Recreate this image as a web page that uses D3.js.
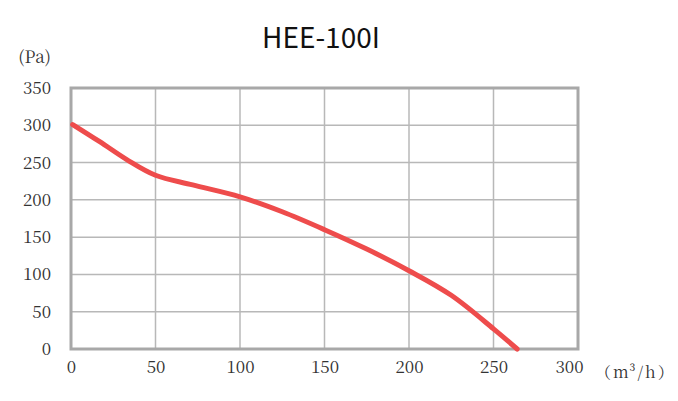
<!DOCTYPE html>
<html><head><meta charset="utf-8">
<script src="https://cdn.jsdelivr.net/npm/d3@7"></script>
<style>
html,body{margin:0;padding:0;background:#fff;}
svg{display:block;}
.lbl{font-family:'Noto Serif CJK SC','Liberation Serif',serif;font-size:17px;fill:#333;}
.unit{font-family:'Noto Serif CJK SC','Liberation Serif',serif;font-size:16px;fill:#333;letter-spacing:2px;}
.ttl{font-family:'Noto Sans CJK SC','Noto Sans',sans-serif;font-size:28px;fill:#111;}
</style></head>
<body><svg id="c" width="678" height="401"></svg>
<script>
const flow = [1, 17, 33, 50, 72, 100, 125, 150, 175, 200, 225, 250, 264];
const pressure = [301, 278, 254, 233, 220, 204, 184, 160, 134, 105, 72, 27, 0];
const xTicks = [0, 50, 100, 150, 200, 250, 300];
const yTicks = [0, 50, 100, 150, 200, 250, 300, 350];
const title = "HEE-100I";
const yUnit = "(Pa)";
const xUnit = "（m³/h）";

const svg = d3.select("#c");
const L = 71, R = 578, T = 88, B = 349;
const x = d3.scaleLinear().domain([0, 300]).range([L, R]);
const y = d3.scaleLinear().domain([0, 350]).range([B, T]);

svg.append("g").selectAll("line").data(xTicks.slice(1, -1)).join("line")
  .attr("x1", d => x(d)).attr("x2", d => x(d)).attr("y1", T).attr("y2", B)
  .attr("stroke", "#b8b8b8").attr("stroke-width", 1.5);
svg.append("g").selectAll("line").data(yTicks.slice(1, -1)).join("line")
  .attr("y1", d => y(d)).attr("y2", d => y(d)).attr("x1", L).attr("x2", R)
  .attr("stroke", "#b8b8b8").attr("stroke-width", 1.5);
svg.append("rect").attr("x", L).attr("y", T).attr("width", R - L).attr("height", B - T)
  .attr("fill", "none").attr("stroke", "#a8a8a8").attr("stroke-width", 3);

const xAxis = svg.append("g").attr("transform", `translate(0,${B})`)
  .call(d3.axisBottom(x).tickValues(xTicks).tickSize(0).tickPadding(12));
xAxis.select(".domain").remove();
xAxis.attr("font-family", null).attr("font-size", null);
xAxis.selectAll("text").attr("class", "lbl").attr("fill", null)
  .attr("dx", d => d === 300 ? -9 : 0);
const yAxis = svg.append("g").attr("transform", `translate(${L},0)`)
  .call(d3.axisLeft(y).tickValues(yTicks).tickSize(0).tickPadding(20));
yAxis.select(".domain").remove();
yAxis.attr("font-family", null).attr("font-size", null);
yAxis.selectAll("text").attr("class", "lbl").attr("fill", null);

svg.append("text").attr("class", "lbl").attr("x", 51).attr("y", 63).attr("text-anchor", "end").text(yUnit);
svg.append("text").attr("class", "unit").attr("x", 595).attr("y", 378).text(xUnit);

svg.append("text").attr("class", "ttl").attr("x", 321).attr("y", 48).attr("text-anchor", "middle").text(title);

const line = d3.line().x((d, i) => x(flow[i])).y(d => y(d)).curve(d3.curveCatmullRom.alpha(0.5));
svg.append("path").attr("d", line(pressure)).attr("fill", "none")
  .attr("stroke", "#ee4c4c").attr("stroke-width", 5).attr("stroke-linecap", "round");
</script></body></html>
